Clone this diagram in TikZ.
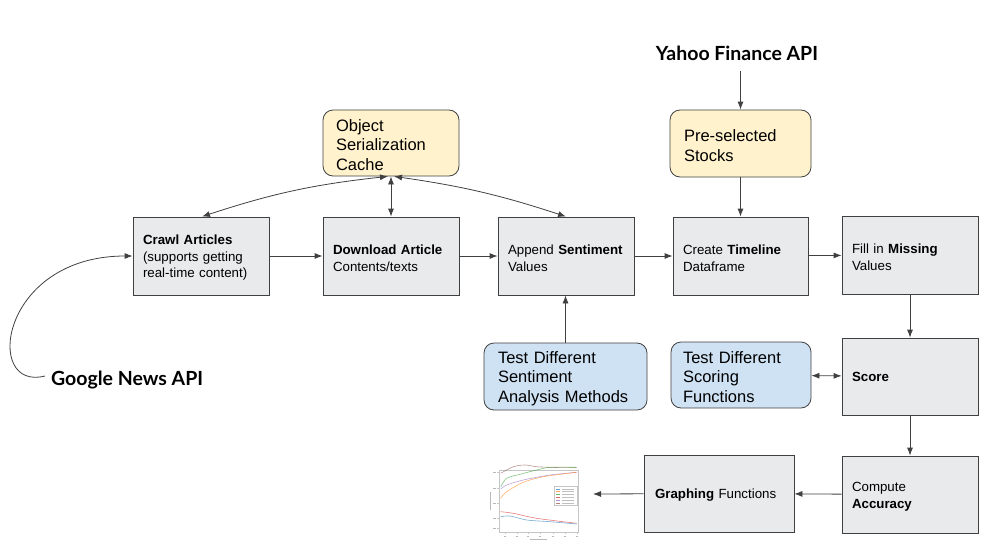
\documentclass[tikz,border=0pt]{standalone}
\usepackage{fontspec}
\setmainfont{Liberation Sans}
\newfontfamily\latofont{Lato}
\usetikzlibrary{arrows.meta,calc}
\definecolor{boxgrey}{HTML}{E8EAEB}
\definecolor{boxyellow}{HTML}{FFF2CC}
\definecolor{boxblue}{HTML}{CFE2F3}
\definecolor{edgecol}{HTML}{404040}
\definecolor{mplblue}{HTML}{1F77B4}
\definecolor{mplorange}{HTML}{FF7F0E}
\definecolor{mplgreen}{HTML}{2CA02C}
\definecolor{mplred}{HTML}{D62728}
\definecolor{mplpurple}{HTML}{9467BD}
\definecolor{mplbrown}{HTML}{8C564B}
\newcommand\textdrop{\endgraf\vspace*{-4pt}}
\begin{document}
\begin{tikzpicture}[x=1pt,y=1pt,
  greybox/.style={draw=edgecol, line width=0.8pt, fill=boxgrey, inner xsep=10pt, inner ysep=0pt,
    text width=#1, minimum height=78pt, align=left, font=\fontsize{13.3}{16.5}\selectfont,
    execute at end node=\textdrop},
  greybox/.default=116pt,
  softbox/.style={draw=edgecol, line width=0.8pt, rounded corners=10pt, inner ysep=0pt,
    align=left, font=\fontsize{16.5}{19.5}\selectfont, execute at end node=\textdrop},
  yellowbox/.style={softbox, fill=boxyellow},
  bluebox/.style={softbox, fill=boxblue},
  apilabel/.style={font=\latofont\bfseries\fontsize{19.5}{22}\selectfont, inner sep=2pt},
  arr/.style={-{Latex[length=8pt,width=6pt]}, draw=edgecol, line width=0.8pt},
  dbl/.style={{Latex[length=8pt,width=6pt]}-{Latex[length=8pt,width=6pt]}, draw=edgecol, line width=0.8pt},
  curve/.style={line width=0.6pt, opacity=0.6, line join=round},
  faint/.style={draw=gray!45, line width=0.4pt}
]
\useasboundingbox (0,0) rectangle (984,-546);

% grey process boxes
\node[greybox] (crawl) at (201,-256) {\textbf{Crawl Articles}\\(supports getting\\real-time content)};
\node[greybox] (download) at (391,-256) {\textbf{Download Article}\\Contents/texts};
\node[greybox] (append) at (566,-256) {\mbox{Append \textbf{Sentiment}}\\Values};
\node[greybox=115pt] (timeline) at (740.5,-256) {Create \textbf{Timeline}\\Dataframe};
\node[greybox] (fill) at (910,-255) {Fill in \textbf{Missing}\\Values};
\node[greybox, minimum height=77pt] (score) at (910,-376.5) {\textbf{Score}};
\node[greybox, minimum height=77pt] (compute) at (910,-494.5) {Compute\\\textbf{Accuracy}};
\node[greybox=128pt, inner xsep=11pt, minimum height=77pt] (graphing) at (719,-493.5) {\textbf{Graphing} Functions};

% yellow boxes
\node[yellowbox, inner xsep=13pt, text width=110pt, minimum height=66pt] (cache) at (391,-143) {Object\\Serialization\\Cache};
\node[yellowbox, inner xsep=14pt, text width=113pt, minimum height=67pt] (stocks) at (740.5,-143.5) {Pre-selected\\Stocks};

% blue boxes
\node[bluebox, inner xsep=14pt, text width=135pt, minimum height=67pt] (testsent) at (565.5,-376.5) {Test Different\\Sentiment\\Analysis Methods};
\node[bluebox, inner xsep=12pt, text width=116pt, minimum height=66pt] (testscore) at (741,-375) {Test Different\\Scoring\\Functions};

% API labels
\node[apilabel] (yahoo) at (737,-53) {Yahoo Finance API};
\node[apilabel, anchor=west] (gna) at (49,-380) {Google News API};

% connectors
\draw[arr] (gna.west) ++(-4,4) .. controls +(-62,-16) and +(-133,0) .. (crawl.west);
\draw[arr] (crawl) -- (download);
\draw[arr] (download) -- (append);
\draw[arr] (append) -- (timeline);
\draw[arr] (timeline) -- (fill);
\draw[arr] (fill) -- (score);
\draw[arr] (score) -- (compute);
\draw[arr] (compute) -- (graphing);
\draw[arr] (testsent.north) -- (testsent.north |- append.south);
\draw[dbl] (testscore) -- (score);
\draw[arr, shorten <=8pt] (yahoo.south -| stocks.north) -- (stocks.north);
\draw[arr] (stocks) -- (timeline);
\draw[dbl] ([xshift=-3pt]cache.south) to[bend right=6] ([xshift=1pt]crawl.north);
\draw[dbl] (cache.south) -- (download.north);
\draw[dbl] ([xshift=3pt]cache.south) to[bend left=5] (append.north);

% small chart picture
\coordinate (chartend) at (593,-494);
\draw[arr] (graphing) -- (chartend);
\draw[faint] (499,-470) rectangle (578,-532);
\foreach \tx in {505,516.7,528,540,552.7,565,576.7}{
  \draw[faint] (\tx,-532) -- (\tx,-534);
  \draw[draw=gray!55, line width=0.6pt] (\tx-1.2,-536.5) -- (\tx+1.2,-536.5);
}
\foreach \ty in {472,488,503,518,528}{
  \draw[faint] (499,-\ty) -- (497,-\ty);
  \draw[draw=gray!55, line width=0.6pt] (493,-\ty) -- (496,-\ty);
}
\draw[draw=gray!55, line width=0.6pt] (490,-492) -- (490,-510);
\draw[draw=gray!55, line width=0.6pt] (530,-539) -- (547,-539);
\draw[curve, mplbrown] plot[smooth] coordinates {(500.7,-473.3) (513.3,-466.7) (525,-465) (536.7,-466.7) (556,-467.5) (576.7,-467.7)};
\draw[curve, mplgreen] plot[smooth] coordinates {(500.7,-486.7) (506.7,-478.3) (520,-474.3) (536.7,-470) (550,-467.3) (576.7,-467.3)};
\draw[curve, mplpurple] plot[smooth] coordinates {(500.7,-489) (506.7,-485) (523.3,-480) (550,-475) (576.7,-472.3)};
\draw[curve, mplorange] plot[smooth] coordinates {(500.7,-498.3) (506.7,-491.7) (523.3,-482.3) (543.3,-476.7) (576.7,-472.3)};
\draw[curve, mplred] plot[smooth] coordinates {(500.7,-511.7) (513.3,-513.3) (536.7,-518.3) (576.7,-523.3)};
\draw[curve, mplblue] plot[smooth] coordinates {(500.7,-516.7) (510,-516) (526.7,-520) (550,-521.7) (576.7,-524)};
\draw[faint, fill=white] (554,-486) rectangle (577,-505);
\foreach \c [count=\i] in {mplblue,mplorange,mplgreen,mplred,mplpurple,mplbrown}{
  \draw[\c, line width=0.6pt, opacity=0.7] (556,-486-2.8*\i) -- (560,-486-2.8*\i);
  \draw[gray!50, line width=0.5pt] (561.5,-486-2.8*\i) -- (574,-486-2.8*\i);
}
\end{tikzpicture}
\end{document}
